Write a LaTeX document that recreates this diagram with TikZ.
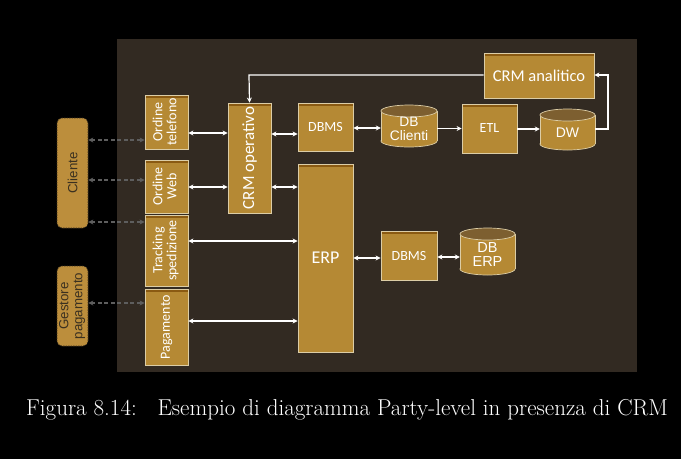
\documentclass[tikz,border=0pt]{standalone}
\usepackage{fontspec}
\setmainfont{Latin Modern Roman}
\newfontfamily\carl{Carlito}
\newfontfamily\lsans{Liberation Sans}
\usetikzlibrary{arrows.meta,shadows}
\definecolor{panel}{HTML}{322A22}
\definecolor{boxfill}{HTML}{B58934}
\definecolor{boxborder}{HTML}{DCCDA6}
\definecolor{boxdark}{HTML}{8A5A12}
\definecolor{cyltop}{HTML}{7D5F30}
\definecolor{extfill}{HTML}{BC8E3C}
\definecolor{exttext}{HTML}{3A3020}
\definecolor{dashgray}{HTML}{5E5E5E}
\newcommand\mycyl[7]{%
  \node[inner sep=0pt,minimum width=#4pt,minimum height=#5pt] (#1) at (#2,#3) {};
  \fill[boxfill,draw=boxborder,line width=0.7pt] ({#2},{#3+#5/2-6}) ellipse[x radius=#4/2*1pt,y radius=6pt];
  \fill[boxfill] ({#2-#4/2},{#3-#5/2+6}) rectangle ({#2+#4/2},{#3+#5/2-6});
  \draw[boxborder,line width=0.7pt] ({#2-#4/2},{#3-#5/2+6}) -- ({#2-#4/2},{#3+#5/2-6});
  \draw[boxborder,line width=0.7pt] ({#2+#4/2},{#3-#5/2+6}) -- ({#2+#4/2},{#3+#5/2-6});
  \fill[cyltop,draw=boxborder,line width=0.7pt] ({#2},{#3-#5/2+6}) ellipse[x radius=#4/2*1pt,y radius=6pt];
  \node[text=white,font=\lsans\fontsize{#7}{#7}\selectfont,align=center,inner sep=0pt] at (#2,{#3+3}) {#6};
}
\tikzset{
  box/.style={draw=boxborder,line width=0.8pt,fill=boxfill,inner sep=0pt,text=white,align=center,
    drop shadow={opacity=0.45,shadow xshift=1.2pt,shadow yshift=-1.2pt},
    path picture={\fill[boxdark] ([yshift=-0.6pt]path picture bounding box.north west) rectangle ([yshift=-2.8pt]path picture bounding box.north east);}},
  ext/.style={draw=exttext,dashed,dash pattern=on 1.5pt off 1pt,line width=0.6pt,fill=extfill,rounded corners=5pt,inner sep=0pt,text=exttext,align=center},
  arr/.style={white,line width=1.2pt,-{Stealth[length=5pt,width=5pt]}},
  darr/.style={white,line width=1.2pt,{Stealth[length=5pt,width=5pt]}-{Stealth[length=5pt,width=5pt]}},
  garr/.style={dashgray,line width=1.6pt,dash pattern=on 4pt off 2.5pt,{Stealth[length=5pt,width=5pt]}-{Stealth[length=5pt,width=5pt]}},
}
\begin{document}
\begin{tikzpicture}[x=1pt,y=-1pt]
\fill[black] (0,0) rectangle (681,459);
\useasboundingbox (0,0) rectangle (681,459);
\fill[panel] (117,39) rectangle (637,372);

% external actors
\node[ext,minimum width=31pt,minimum height=110pt] (cli) at (72.5,173) {\rotatebox{90}{\lsans\fontsize{13.3}{13}\selectfont Cliente}};
\node[ext,minimum width=31pt,minimum height=80pt] (ges) at (72.5,306) {\rotatebox{90}{\lsans\fontsize{13.3}{14}\selectfont\begin{tabular}{@{}c@{}}Gestore\\pagamento\end{tabular}}};

% channel boxes
\node[box,minimum width=43pt,minimum height=54pt] (ot) at (166.5,122) {\rotatebox{90}{\carl\fontsize{14}{14}\selectfont\begin{tabular}{@{}c@{}}Ordine\\telefono\end{tabular}}};
\node[box,minimum width=43pt,minimum height=53pt] (ow) at (166.5,186.5) {\rotatebox{90}{\carl\fontsize{14}{14}\selectfont\begin{tabular}{@{}c@{}}Ordine\\Web\end{tabular}}};
\node[box,minimum width=43pt,minimum height=71pt] (tr) at (166.5,250.5) {\rotatebox{90}{\carl\fontsize{14}{14}\selectfont\begin{tabular}{@{}c@{}}Tracking\\spedizione\end{tabular}}};
\node[box,minimum width=43pt,minimum height=76pt] (pa) at (166.5,327) {\rotatebox{90}{\carl\fontsize{14}{14}\selectfont Pagamento}};

% core
\node[box,minimum width=43pt,minimum height=110pt] (crmo) at (249.5,158) {\rotatebox{90}{\carl\fontsize{17}{17}\selectfont CRM operativo}};
\node[box,minimum width=55pt,minimum height=48pt] (dbms1) at (325.5,127) {\carl\fontsize{14}{14}\selectfont DBMS};
\node[box,minimum width=55pt,minimum height=188pt] (erp) at (325.5,258) {\carl\fontsize{18}{18}\selectfont ERP};
\node[box,minimum width=56pt,minimum height=49pt] (dbms2) at (409,255.5) {\carl\fontsize{14}{14}\selectfont DBMS};
\node[box,minimum width=55pt,minimum height=49pt] (etl) at (489.5,128.5) {\carl\fontsize{14}{14}\selectfont ETL};
\node[box,minimum width=110pt,minimum height=45pt] (crma) at (539,75.5) {\carl\fontsize{16.5}{16.5}\selectfont CRM analitico};

\mycyl{dbc}{409}{126}{56}{42}{DB\\Clienti}{13.8}
\mycyl{dw}{567.5}{129.5}{55}{41}{DW}{14}
\mycyl{dbe}{487.5}{251.5}{55}{47}{DB\\ERP}{14.5}

% dashed actor links
\draw[garr] (cli.east |- 0,140) -- (ot.west |- 0,140);
\draw[garr] (cli.east |- 0,180) -- (ow.west |- 0,180);
\draw[garr] (cli.east |- 0,222) -- (tr.west |- 0,222);
\draw[garr] (ges.east |- 0,303) -- (pa.west |- 0,303);

% channel links
\draw[darr] (ot.east |- 0,133) -- (crmo.west |- 0,133);
\draw[darr] (ow.east |- 0,187) -- (crmo.west |- 0,187);
\draw[darr] (tr.east |- 0,241) -- (erp.west |- 0,241);
\draw[darr] (pa.east |- 0,321) -- (erp.west |- 0,321);

\draw[darr] (crmo.east |- 0,134) -- (dbms1.west |- 0,134);
\draw[darr] (crmo.east |- 0,187) -- (erp.west |- 0,187);
\draw[darr] (dbms1.east |- 0,128) -- (dbc.west |- 0,128);
\draw[arr] (dbc.east |- 0,128.5) -- (etl.west |- 0,128.5);
\draw[arr] (etl.east |- 0,129) -- (dw.west |- 0,129);
\draw[arr] (dw.east |- 0,129) -- (608,129) -- (608,75) -- (crma.east |- 0,75);
\draw[arr] (crma.west |- 0,75) -- (249,75) -- (crmo.north);
\draw[darr] (erp.east |- 0,258) -- (dbms2.west |- 0,258);
\draw[darr] (dbms2.east |- 0,257) -- (dbe.west |- 0,257);

% caption
\node[text=white,font=\fontsize{23}{26}\selectfont,anchor=center] (cap) at (347,410) {Figura 8.14:\hspace{0.9em}Esempio di diagramma Party-level in presenza di CRM};
\end{tikzpicture}
\end{document}
